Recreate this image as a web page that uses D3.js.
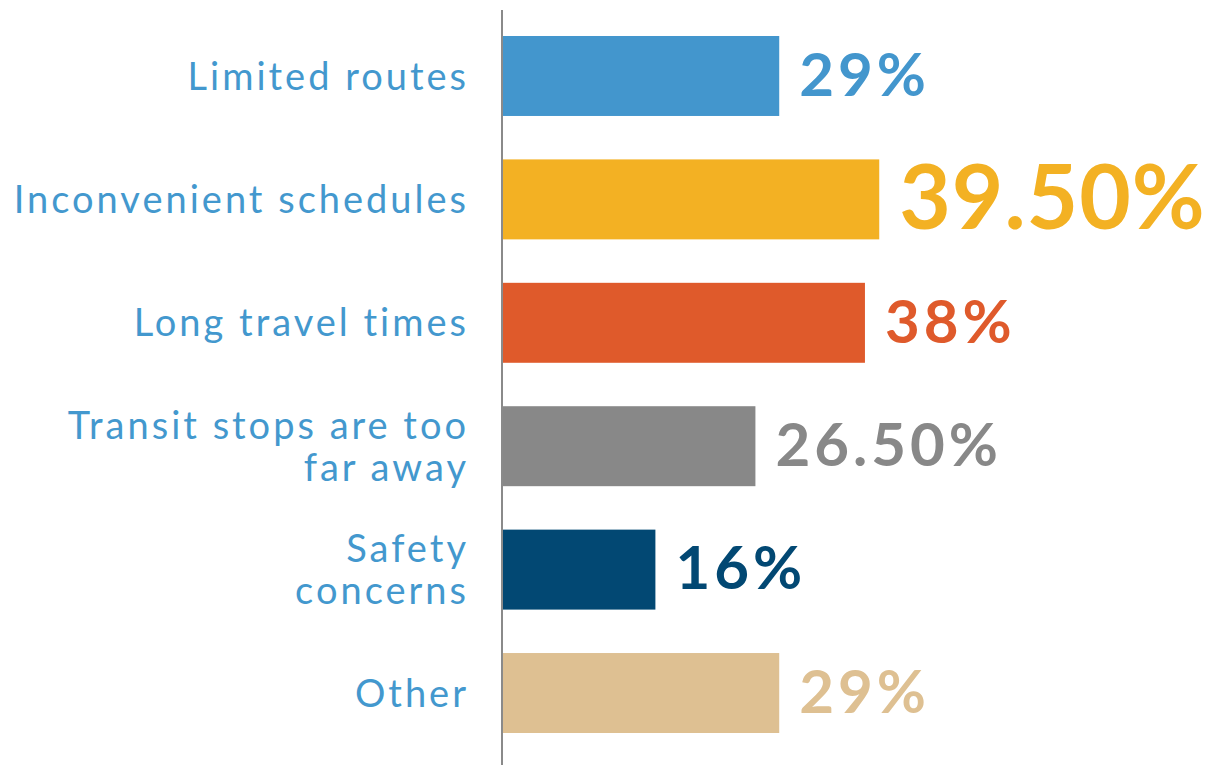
<!DOCTYPE html>
<html>
<head>
<meta charset="utf-8">
<script src="https://cdn.jsdelivr.net/npm/d3@7"></script>
<style>
  html, body { margin: 0; padding: 0; background: #fff; }
</style>
</head>
<body>
<script>
const categories = [
  "Limited routes",
  "Inconvenient schedules",
  "Long travel times",
  "Transit stops are too\nfar away",
  "Safety\nconcerns",
  "Other"
];
const values = [29, 39.5, 38, 26.5, 16, 29];
const valueLabels = ["29%", "39.50%", "38%", "26.50%", "16%", "29%"];
const colors = ["#4396cd", "#f3b123", "#df5a2b", "#888888", "#024873", "#dec092"];

const width = 1220;
const height = 765;
const axisX = 503;

const svg = d3.select("body")
  .append("svg")
  .attr("width", width)
  .attr("height", height)
  .attr("viewBox", [0, 0, width, height]);

const y = d3.scaleBand()
  .domain(categories)
  .range([36, 733])
  .paddingInner(0.352)
  .paddingOuter(0);

const x = d3.scaleLinear()
  .domain([0, 40])
  .range([axisX, 884]);

const maxValue = d3.max(values);

// bars
svg.append("g")
  .selectAll("rect")
  .data(values)
  .join("rect")
  .attr("x", x(0))
  .attr("y", (d, i) => y(categories[i]))
  .attr("width", d => x(d) - x(0))
  .attr("height", y.bandwidth())
  .attr("fill", (d, i) => colors[i]);

// vertical axis line
svg.append("line")
  .attr("x1", axisX - 1).attr("x2", axisX - 1)
  .attr("y1", 10).attr("y2", height)
  .attr("stroke", "#8a8a8a")
  .attr("stroke-width", 2);

// category labels
const fs = 38;
const lineH = 42;
svg.append("g")
  .style("font-family", "Lato, sans-serif")
  .style("font-size", fs + "px")
  .style("letter-spacing", "3px")
  .attr("fill", "#4398ce")
  .attr("text-anchor", "end")
  .selectAll("text")
  .data(categories)
  .join("text")
  .attr("y", d => y(d) + y.bandwidth() / 2)
  .each(function (d) {
    const lines = d.split("\n");
    const t = d3.select(this);
    lines.forEach((line, i) => {
      t.append("tspan")
        .attr("x", axisX - 34)
        .attr("dy", i === 0 ? (0.36 * fs - (lines.length - 1) * lineH / 2) : lineH)
        .text(line);
    });
  });

// value labels
svg.append("g")
  .style("font-family", "Lato, sans-serif")
  .style("font-weight", "700")
  .selectAll("text")
  .data(values)
  .join("text")
  .attr("x", d => x(d) + 20)
  .attr("y", (d, i) => y(categories[i]) + y.bandwidth() / 2)
  .attr("dy", "0.33em")
  .style("font-size", d => d === maxValue ? "89px" : "60px")
  .style("letter-spacing", d => d === maxValue ? "1px" : "4px")
  .attr("fill", (d, i) => colors[i])
  .text((d, i) => valueLabels[i]);
</script>
</body>
</html>
